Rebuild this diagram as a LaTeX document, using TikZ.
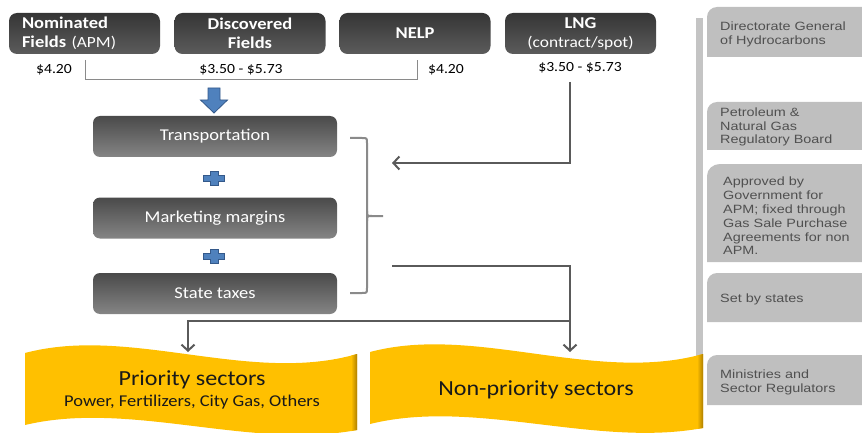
\documentclass[tikz,border=0pt]{standalone}
\usepackage{fontspec}
\setmainfont{Carlito}[FakeStretch=1.12]
\newfontfamily\arialf{Liberation Sans}
\usetikzlibrary{arrows.meta}
\definecolor{gold}{HTML}{FFC000}
\definecolor{goldshadow}{HTML}{A87A00}
\definecolor{darkA}{HTML}{353535}
\definecolor{darkB}{HTML}{5C5C5C}
\definecolor{midA}{HTML}{4A4A4A}
\definecolor{midB}{HTML}{858585}
\definecolor{conncol}{HTML}{5A5A5A}
\definecolor{bracecol}{HTML}{8A8A8A}
\definecolor{sidecol}{HTML}{BFBFBF}
\definecolor{sidetext}{HTML}{505050}
\definecolor{barcol}{HTML}{C4C4C4}
\definecolor{bluefill}{HTML}{4F81BD}
\definecolor{blueline}{HTML}{34598A}
\newcommand\regpart[1]{{\mdseries\fontsize{15.5}{19}\selectfont #1}}
\begin{document}
\begin{tikzpicture}[x=1pt,y=-1pt,
  topbox/.style={rounded corners=8pt, top color=darkA, bottom color=darkB,
    text=white, font=\bfseries\fontsize{16.5}{19}\selectfont,
    minimum width=151pt, minimum height=41pt, inner sep=0pt, align=center},
  midbox/.style={rounded corners=7pt, top color=midA, bottom color=midB,
    text=white, font=\fontsize{16.5}{19}\selectfont,
    minimum width=244pt, minimum height=41pt, inner sep=0pt},
  price/.style={font=\fontsize{14}{16}\selectfont, inner sep=0pt},
  sidetxt/.style={anchor=west, align=left, inner sep=0pt, text=sidetext,
    xscale=1.2, transform shape,
    font=\arialf\fontsize{12}{13.8}\selectfont},
  conn/.style={draw=conncol, line width=2.2pt,
    -{Straight Barb[length=6pt,width=13pt,line width=2pt]}},
  pricebr/.style={draw=bracecol, line width=1pt},
  bracestyle/.style={draw=bracecol, line width=2pt},
  bluemark/.style={fill=bluefill, draw=blueline, line width=0.8pt},
  plusmark/.pic={\path[bluemark] (-10.5,-3.2) -- (-4,-3.2) -- (-4,-6.8) -- (4,-6.8) -- (4,-3.2) -- (10.5,-3.2)
      -- (10.5,3.2) -- (4,3.2) -- (4,6.8) -- (-4,6.8) -- (-4,3.2) -- (-10.5,3.2) -- cycle;},
  banner/.style={fill=gold}
]
\path[use as bounding box, clip] (0,0) rectangle (862,433);

% ---- top source boxes
\node[topbox, text width=125pt, align=left] (nom) at (84.5,33.5)
  {Nominated\\Fields \regpart{(APM)}};
\node[topbox] (disc) at (250,33.5) {Discovered\\Fields};
\node[topbox] (nelp) at (415,33.5) {NELP};
\node[topbox] (lng) at (580.5,33.5) {LNG\\\regpart{(contract/spot)}};

% ---- prices
\node[price] (p1) at (54,70) {\$4.20};
\node[price] (p2) at (241,70) {\$3.50 - \$5.73};
\node[price] (p3) at (446,70) {\$4.20};
\node[price] (p4) at (580,68) {\$3.50 - \$5.73};
\draw[pricebr] (85,60) -- (85,80) -- (417,80) -- (417,60);

% ---- blue down arrow
\path[bluemark] (208,88) -- (220,88) -- (220,100) -- (227.5,100) -- (214,113)
  -- (200.5,100) -- (208,100) -- cycle;

% ---- cost components
\node[midbox] (trans) at (215,136.5) {Transportation};
\node[midbox] (mkt) at (215,218) {Marketing margins};
\node[midbox] (tax) at (215,293.5) {State taxes};
\pic at (214,178.5) {plusmark};
\pic at (214,256.5) {plusmark};

% ---- brace
\draw[bracestyle] (350,138) -- (362,138) .. controls (367,138) .. (367,143)
  -- (367,288) .. controls (367,293) .. (362,293) -- (350,293);
\draw[bracestyle] (367,211) .. controls (367,216) .. (372,216) -- (383,216);
\draw[bracestyle] (367,221) .. controls (367,216) .. (372,216);

% ---- side bar
\fill[barcol] (696,18) rectangle (703,356);

% ---- banners
\path[banner] (25,353) .. controls (130,325) and (250,385) .. (357,354)
  -- (357,430) .. controls (250,450) and (130,400) .. (25,425) -- cycle;
\begin{scope}
  \clip (25,353) .. controls (130,325) and (250,385) .. (357,354)
  -- (357,430) .. controls (250,450) and (130,400) .. (25,425) -- cycle;
  \shade[left color=gold, right color=goldshadow] (351,330) rectangle (357.5,440);
\end{scope}
\path[banner] (370,352) .. controls (475,324) and (595,384) .. (703,354)
  -- (703,428) .. controls (595,448) and (475,398) .. (370,424) -- cycle;
\begin{scope}
  \clip (370,352) .. controls (475,324) and (595,384) .. (703,354)
  -- (703,428) .. controls (595,448) and (475,398) .. (370,424) -- cycle;
  \shade[left color=gold, right color=goldshadow] (697,330) rectangle (703.5,440);
\end{scope}
\node[inner sep=0pt, font=\fontsize{21.5}{24}\selectfont, text=black!90] (prio) at (192,380) {Priority sectors};
\node[inner sep=0pt, font=\fontsize{16.5}{18}\selectfont, text=black!90] (priosub) at (192,402) {Power, Fertilizers, City Gas, Others};
\node[inner sep=0pt, font=\fontsize{21.5}{24}\selectfont, text=black!90] (nonprio) at (536,390) {Non-priority sectors};

% ---- connectors
\coordinate (lngtop) at (570,82);
\coordinate (lngend) at (392,163);
\coordinate (ststart) at (392,266);
\coordinate (npin) at (570,352);
\coordinate (branch) at (570,321);
\coordinate (pin) at (188,352);
\draw[conn] (lngtop) |- (lngend);
\draw[conn] (ststart) -| (npin);
\draw[conn] (branch) -| (pin);

% ---- side boxes
\fill[sidecol] (707,57) -- (707,17) .. controls (707,11.5) and (711.5,7) .. (717,7) -- (862,7) -- (862,57) -- cycle;
\fill[sidecol] (707,150) -- (707,112) .. controls (707,106.5) and (711.5,102) .. (717,102) -- (862,102) -- (862,150) -- cycle;
\fill[sidecol] (707,262) -- (707,176) .. controls (707,169) and (713,164) .. (720,164) -- (862,164) -- (862,262) -- cycle;
\fill[sidecol] (707,322) -- (707,283) .. controls (707,277.5) and (711.5,273) .. (717,273) -- (862,273) -- (862,322) -- cycle;
\fill[sidecol] (707,405) -- (707,365) .. controls (707,359.5) and (711.5,355) .. (717,355) -- (862,355) -- (862,405) -- cycle;
\node[sidetxt] (dgh) at (720,34) {Directorate General\\of Hydrocarbons};
\node[sidetxt] (png) at (720,127) {Petroleum \&\\Natural Gas\\Regulatory Board};
\node[sidetxt] (appr) at (723,216) {Approved by\\Government for\\APM; fixed through\\Gas Sale Purchase\\Agreements for non\\APM.};
\node[sidetxt] (states) at (720,299) {Set by states};
\node[sidetxt] (min) at (720,382) {Ministries and\\Sector Regulators};
\end{tikzpicture}
\end{document}
